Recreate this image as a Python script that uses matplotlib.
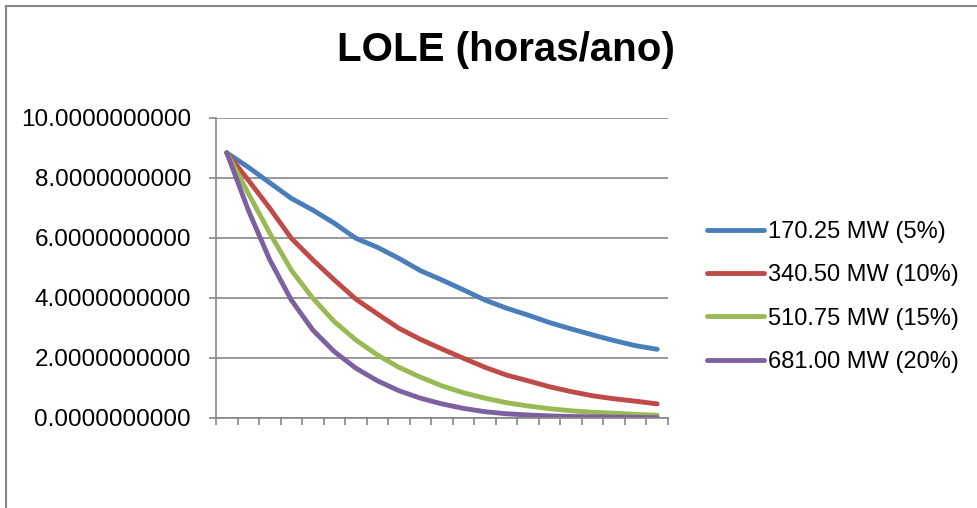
import numpy as np
import matplotlib
matplotlib.use("Agg")
import matplotlib.pyplot as plt
from matplotlib.lines import Line2D

plt.rcParams['font.family'] = ['Liberation Sans', 'DejaVu Sans']

# 21 cases, no category labels on the x axis
cases = list(range(1, 22))
series_names = ['170.25 MW (5%)', '340.50 MW (10%)', '510.75 MW (15%)', '681.00 MW (20%)']
lole_5 = [8.84, 8.36, 7.84, 7.32, 6.93, 6.49, 5.99, 5.69, 5.32, 4.91, 4.60,
          4.27, 3.93, 3.66, 3.43, 3.18, 2.97, 2.77, 2.58, 2.41, 2.29]
lole_10 = [8.84, 7.93, 6.99, 5.99, 5.27, 4.60, 3.96, 3.47, 2.99, 2.62, 2.30,
           1.99, 1.69, 1.43, 1.24, 1.04, 0.88, 0.74, 0.64, 0.56, 0.47]
lole_15 = [8.84, 7.49, 6.16, 4.93, 3.99, 3.21, 2.60, 2.10, 1.69, 1.36, 1.07,
           0.84, 0.66, 0.51, 0.40, 0.31, 0.24, 0.19, 0.16, 0.12, 0.09]
lole_20 = [8.84, 6.93, 5.27, 3.93, 2.93, 2.21, 1.66, 1.24, 0.91, 0.66, 0.47,
           0.32, 0.21, 0.14, 0.10, 0.07, 0.05, 0.04, 0.03, 0.02, 0.01]
colors = ['#4A7EBB', '#BE4B48', '#98B954', '#7D60A0']

W, H = 978, 508
fig = plt.figure(figsize=(W / 100, H / 100), dpi=100)
ax = fig.add_axes([216 / W, (H - 418) / H, (668 - 216) / W, 300 / H])

x = np.arange(len(cases))
for vals, name, c in zip([lole_5, lole_10, lole_15, lole_20], series_names, colors):
    ax.plot(x, vals, color=c, lw=3.5, solid_capstyle='round', label=name)

ax.set_xlim(-0.5, len(cases) - 0.5)
ax.set_ylim(0, 10)
ax.set_yticks(np.arange(0, 11, 2))
ax.set_yticklabels([f"{v:.10f}" for v in np.arange(0, 11, 2)], fontsize=17.5)
ax.set_xticks(np.arange(-0.5, len(cases), 1.0))
ax.set_xticklabels([])
ax.tick_params(axis='y', length=5, width=1.2, color='#868686', pad=13)
ax.tick_params(axis='x', length=5, width=1.2, color='#868686')
ax.grid(axis='y', color='#868686', lw=1.2)
ax.set_axisbelow(True)
for s in ['top', 'right']:
    ax.spines[s].set_visible(False)
for s in ['left', 'bottom']:
    ax.spines[s].set_color('#868686')
    ax.spines[s].set_linewidth(1.2)

fig.text(506 / W, 1 - 50 / H, 'LOLE (horas/ano)', ha='center', va='center',
         fontsize=29, fontweight='bold')

fig.legend(loc='center left', bbox_to_anchor=(707 / W, (H - 297) / H), frameon=False,
           fontsize=17, handlelength=2.4, handletextpad=0.2, labelspacing=0.9,
           borderpad=0, borderaxespad=0)

# outer chart border (top and left visible)
fig.add_artist(Line2D([6 / W, 6 / W], [0, 1 - 6 / H], color='#868686', lw=1.5))
fig.add_artist(Line2D([6 / W, 1], [1 - 6 / H, 1 - 6 / H], color='#868686', lw=1.5))

fig.savefig('out.png', dpi=100)
